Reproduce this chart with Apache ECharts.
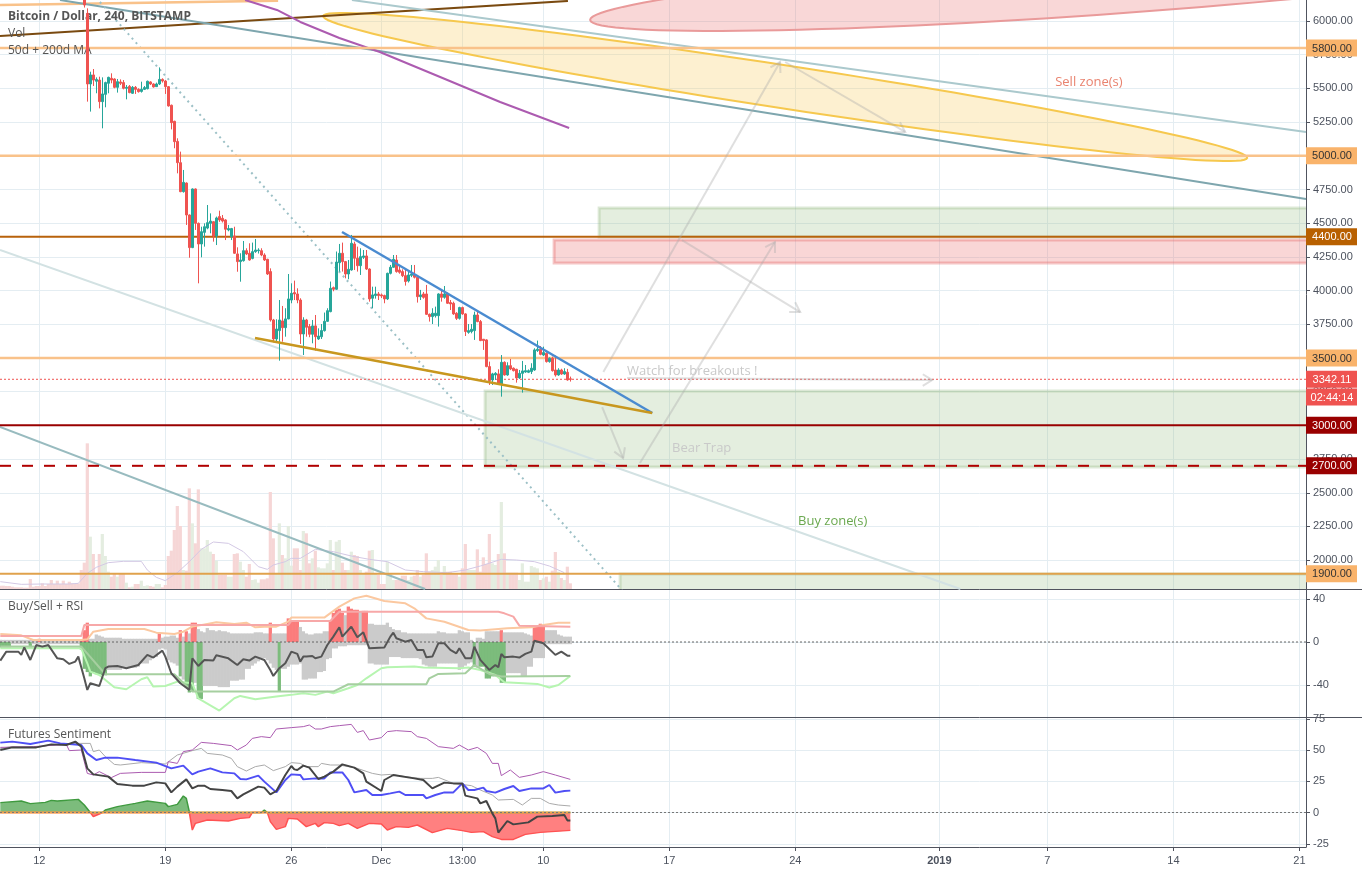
<!DOCTYPE html>
<html lang="en">
<head>
<meta charset="UTF-8">
<title>Bitcoin / Dollar, 240, BITSTAMP</title>
<style>
  html, body { margin: 0; padding: 0; background: #fff; overflow: hidden; }
  #chart { width: 1362px; height: 872px; }
</style>
</head>
<body>
<div id="chart"></div>
<script src="https://cdn.jsdelivr.net/npm/echarts@6/dist/echarts.min.js"></script>
<script>
// x axis is counted in 4h bars, bar 0 = 12 Nov 2018
const firstBar = -13;      // first bar of the indicator arrays
const firstCandle = 15;    // first candle on screen
const lastVisibleBar = 422.2;
const firstVisibleBar = -13.1;

const xTickBars = [0, 42, 84, 114, 141, 168, 210, 252, 300, 336, 378, 420];
const xTickLabels = ['12', '19', '26', 'Dec', '13:00', '10', '17', '24', '2019', '7', '14', '21'];
const priceTicks = [2000, 2250, 2500, 2750, 3000, 3250, 3500, 3750, 4000, 4250, 4500, 4750, 5000, 5250, 5500, 5750, 6000];
const rsiTicks = [-40, 0, 40];
const sentTicks = [-25, 0, 25, 50, 75];

const opens = [6300,
  6057,5533,5600,5553,5562,5402,5456,5538,5575,5570,
  5508,5548,5543,5501,5515,5464,5508,5493,5478,5493,
  5498,5548,5533,5513,5533,5567,5555,5513,5375,5256,
  5107,4949,4734,4798,4561,4319,4754,4499,4346,4432,
  4464,4499,4511,4405,4549,4536,4524,4450,4400,4405,
  4272,4215,4222,4296,4277,4239,4289,4296,4296,4264,
  4232,4141,3782,3641,3703,3775,3725,3790,3930,3985,
  3975,3930,3678,3782,3733,3676,3738,3641,3658,3703,
  3772,3844,4022,4010,4207,4277,4215,4123,4153,4346,
  4240,4185,4247,4257,4160,3943,3963,3975,3968,3963,
  3938,4128,4173,4227,4153,4141,4111,4071,4113,4116,
  4099,3955,3975,3975,3824,3807,3814,3814,3975,3950,
  3975,3911,3906,3832,3794,3874,3827,3690,3696,3703,
  3819,3770,3639,3634,3436,3337,3374,3382,3307,3468,
  3374,3443,3424,3416,3352,3386,3396,3394,3399,3411,
  3555,3565,3522,3535,3473,3498,3411,3374,3411,3381,
  3394,3345];
const closes = [6119,
  5533,5600,5562,5567,5402,5459,5543,5582,5562,5508,
  5550,5538,5501,5508,5469,5508,5493,5476,5493,5506,
  5553,5533,5511,5533,5567,5555,5513,5370,5246,5105,
  4949,4734,4803,4561,4319,4754,4499,4346,4437,4474,
  4504,4516,4405,4539,4524,4516,4455,4460,4460,4277,
  4215,4227,4296,4272,4227,4289,4301,4301,4264,4227,
  4123,3782,3641,3715,3782,3725,3790,3938,3980,3975,
  3930,3678,3782,3728,3676,3738,3658,3663,3703,3772,
  3851,4017,4010,4212,4277,4215,4123,4158,4351,4240,
  4185,4252,4257,4160,3938,3968,3975,3963,3960,3938,
  4128,4173,4232,4141,4136,4111,4067,4116,4123,4099,
  3955,3968,3950,3824,3807,3832,3832,3975,3950,3975,
  3906,3901,3827,3794,3874,3827,3696,3703,3713,3819,
  3770,3629,3629,3436,3332,3382,3386,3307,3468,3374,
  3443,3419,3406,3352,3386,3404,3406,3406,3424,3560,
  3565,3527,3540,3473,3498,3406,3374,3411,3381,3399,
  3337,3342];
const lows = [6100,
  5402,5328,5518,5464,5352,5204,5360,5464,5538,5501,
  5469,5525,5493,5419,5464,5459,5459,5469,5469,5488,
  5493,5525,5506,5511,5525,5543,5459,5365,5196,5056,
  4870,4730,4727,4487,4244,4315,4450,4054,4247,4326,
  4455,4425,4363,4338,4510,4505,4375,4440,4375,4272,
  4140,4066,4215,4264,4222,4232,4280,4275,4255,4220,
  4116,3770,3616,3621,3480,3621,3658,3787,3906,3930,
  3906,3604,3522,3658,3654,3609,3555,3634,3641,3696,
  3767,3839,3995,4005,4141,4141,4091,4084,4148,4153,
  4141,4116,4235,4153,3918,3869,3940,3930,3945,3906,
  3930,4120,4170,4133,4125,4100,4037,4060,4100,4090,
  3911,3930,3940,3819,3770,3752,3800,3733,3918,3940,
  3901,3856,3820,3782,3785,3820,3663,3680,3683,3634,
  3765,3625,3560,3431,3300,3300,3337,3300,3213,3369,
  3368,3410,3400,3317,3345,3243,3390,3388,3381,3405,
  3545,3520,3515,3466,3465,3399,3362,3368,3375,3375,
  3332,3325];
const highs = [6340,
  6094,5624,5644,5582,5587,5582,5550,5587,5612,5575,
  5570,5567,5562,5525,5525,5518,5518,5501,5550,5518,
  5558,5553,5538,5543,5656,5575,5562,5518,5380,5260,
  5130,5031,4895,4803,4565,4758,4758,4505,4474,4499,
  4635,4573,4516,4549,4593,4561,4530,4487,4465,4474,
  4321,4277,4368,4314,4351,4356,4383,4314,4314,4277,
  4236,4165,3790,3787,3930,3886,3869,4123,4054,4074,
  4017,3943,3802,3790,3752,3782,3819,3720,3752,3837,
  3869,4067,4030,4290,4346,4356,4220,4227,4413,4363,
  4326,4314,4301,4301,4165,4029,4029,3990,3978,3970,
  4133,4190,4264,4264,4190,4158,4165,4141,4190,4190,
  4104,4005,3990,4042,3830,3869,3881,3980,4005,4034,
  3985,3930,3918,3840,3880,3881,3832,3752,3752,3844,
  3851,3782,3641,3639,3473,3390,3395,3416,3522,3475,
  3468,3493,3430,3420,3411,3478,3448,3415,3461,3572,
  3629,3589,3584,3542,3505,3510,3517,3424,3420,3424,
  3419,3362];

// volume in chart units, bars -13..177
const volumes = [10,10,9,9,7,5,5,5,4,4,30,7,9,9,17,9,15,27,15,25,15,25,15,22,17,15,17,
  57,79,437,157,105,47,105,165,99,52,
  37,45,37,45,45,19,5,7,15,15,
  25,9,11,9,7,15,15,5,12,99,
  115,177,249,189,57,55,302,197,137,299,
  122,122,147,112,105,85,42,42,42,37,
  37,105,107,82,57,37,75,27,29,19,
  29,29,32,291,152,47,197,102,92,189,
  70,122,122,57,174,167,77,92,115,65,
  62,62,77,147,57,142,147,79,57,57,
  112,102,99,57,47,52,115,117,47,42,
  15,15,82,47,27,27,27,40,40,27,
  37,40,57,37,42,107,52,57,67,87,
  42,69,52,52,47,47,37,62,135,57,
  57,57,119,52,95,75,165,77,72,105,
  261,107,49,49,49,49,27,77,22,22,
  69,65,62,27,32,37,22,55,111,52,
  33,27,67,17];
const volMa = [[-13,22],[-6,14],[1,15],[10,15],[13,17],[16,47],[19,65],[23,79],[28,83],[34,83],[36,57],[39,35],[42,25],[46,49],[50,82],[54,119],[58,141],[63,137],[68,112],[73,67],[76,59],[78,72],[82,82],[84,92],[87,92],[92,119],[98,112],[104,99],[110,89],[116,82],[122,57],[128,52],[136,49],[142,57],[147,69],[154,89],[159,87],[165,82],[170,69],[175,49]];

// Buy/Sell + RSI pane
const histUp = [2,2,2,2,2,2,2,2,2,2,2,2,2,3,2,2,2,2,2,2,2,2,2,2,2,2,2,
  2,11,18,3,3,7,6,5,4,4,
  4,4,4,4,3,3,3,3,3,3,
  3,3,3,3,3,3,9,4,5,5,
  6,6,4,11,5,10,8,18,18,12,
  10,9,13,11,11,10,11,10,10,9,
  8,8,8,8,8,8,8,8,9,9,
  9,8,8,18,8,8,8,8,8,22,
  20,20,20,14,10,8,7,7,8,8,
  8,10,10,20,27,30,31,27,25,33,
  31,30,30,28,29,29,17,17,16,16,
  16,16,18,14,12,11,11,9,9,8,
  8,8,8,8,8,8,8,8,8,10,
  9,9,8,8,8,8,11,10,9,9,
  2,0,4,4,3,10,10,10,10,10,
  11,9,9,9,9,9,9,9,8,7,
  6,14,15,17,15,11,11,11,11,7,
  6,5,5,5];
const histDown = [-5,-5,-5,-5,-2,-2,-2,-2,-2,-2,-5,-2,-2,-2,-2,-2,-2,-2,-2,-2,-2,-2,-2,-2,-2,-2,-2,
  -7,-25,-28,-32,-28,-30,-30,-31,-31,-26,
  -26,-26,-26,-26,-24,-24,-24,-24,-24,-23,
  -20,-20,-20,-17,-15,-14,-7,-6,-7,-17,
  -19,-20,-22,-32,-35,-41,-47,-46,-38,-53,
  -53,-41,-41,-41,-41,-41,-42,-42,-42,-42,
  -36,-36,-36,-35,-35,-25,-25,-22,-20,-18,
  -15,-15,-17,-20,-24,-26,-46,-25,-25,-23,
  -21,-21,-21,-20,-35,-35,-34,-34,-34,-28,
  -28,-27,-16,-15,-6,-6,-4,-4,-4,-3,
  -3,-3,-3,-3,-3,-3,-20,-20,-21,-21,
  -21,-21,-21,-14,-14,-14,-14,-15,-15,-15,
  -15,-15,-15,-16,-21,-22,-23,-23,-23,-20,
  -20,-20,-20,-20,-20,-20,-26,-24,-22,-20,
  -19,-23,-24,-23,-23,-34,-34,-32,-32,-32,
  -38,-38,-29,-29,-29,-29,-29,-32,-32,-23,
  -23,-15,-15,-15,-15,-2,-2,-2,-2,-2,
  -2,-2,-2,-2];
const sellBars = [0,14,15,16,40,47,49,51,52,77,83,84,85,86,97,98,99,100,101,103,104,105,106,108,109,154,165,166,167,168];
const buyBars = [-13,-12,-11,-10,-3,14,15,16,17,18,19,20,21,22,47,49,50,51,53,54,80,145,147,148,149,150,151,152,153,154,155];
const rsiLine = [[-13,-17.3],[-11,-9],[-7,-9],[-6,-12],[-5,-5],[-3,-16.7],[-1,-2.8],[1,-4.3],[3,-2.8],[6,-15.2],[8,-16],[10,-20.4],[12,-18.2],[13,-13.6],[15,-33.8],[16,-44.6],[17,-38.4],[20,-40.9],[22,-24.4],[23,-22.9],[26,-22.3],[29,-24.4],[33,-21.4],[36,-12],[38,-14.5],[41,-8],[42,-13.6],[44,-29.1],[47,-38.4],[50,-44.6],[51,-15.2],[53,-22.3],[55,-16.7],[58,-17.3],[59,-12.4],[63,-15.2],[66,-21.4],[68,-16],[70,-17.3],[72,-13.6],[75,-16.7],[77,-26],[78,-31.6],[80,-24.4],[82,-19.8],[84,-9],[86,-11.1],[87,-18.2],[88,-13.6],[89,-13.6],[91,-13],[92,-15.2],[94,-13.6],[96,-2.8],[98,5],[100,13.7],[101,5],[104,14.3],[106,4.4],[108,9],[110,-5.9],[115,-5.2],[117,5],[118,8.7],[119,3.5],[122,0.3],[124,1.9],[126,-7.4],[128,-7.4],[129,-14.2],[131,-13.6],[133,-1.2],[135,-1.2],[137,-7.4],[139,-10.5],[140,-5.9],[142,-15.2],[144,-15.2],[145,-4.3],[147,-16.7],[150,-26],[152,-21.4],[153,-23.5],[154,-11.1],[155,-14.2],[158,-13.6],[160,-14.5],[162,-11.1],[164,-9],[165,1.2],[168,-1.2],[172,-12],[174,-9],[176,-12.7],[177,-12.7]];
const rsiUpper = [[-13,7.5],[-6,6.2],[-2,1.9],[14,1.9],[16,2.5],[18,9.6],[23,12.1],[35,12.1],[39,8.7],[45,7.5],[48,9.6],[51,14.3],[56,16.8],[59,18.3],[65,16.8],[69,18],[72,13.7],[75,14.3],[79,14.3],[83,18.9],[84,22.7],[95,22.7],[100,32.9],[105,40.6],[109,43.1],[115,38.2],[122,36],[125,31.4],[129,22],[135,18.9],[143,11.2],[147,10.6],[156,12.8],[164,13.7],[168,15.9],[173,18],[177,18]];
const rsiLower = [[-13,-5.9],[14,-5.9],[16,-19.8],[17,-27.6],[20,-30.7],[25,-42.1],[29,-44],[34,-34.7],[36,-32.8],[38,-41.5],[42,-40.9],[46,-36.9],[51,-38.4],[53,-52.4],[60,-63.8],[65,-52.4],[67,-50.2],[72,-53.3],[79,-50.8],[84,-49.2],[88,-47.7],[92,-49.2],[96,-46.2],[98,-47.7],[103,-43.1],[106,-40],[109,-33.8],[114,-24.4],[116,-23.5],[125,-22.9],[128,-23.8],[140,-24.4],[143,-23.8],[147,-26],[152,-30.7],[155,-37.5],[166,-39],[170,-42.4],[173,-40],[177,-31.6]];
const sellBand = [[-13,5.6],[14,5.6],[15,15.8],[83,15.8],[84,19.6],[97,19.6],[100,28.2],[153,28.2],[155,26.7],[158,23.6],[160,15.2],[177,14.3]];
const buyBand = [[-13,-4.3],[14,-4.3],[22,-30],[45,-30],[51,-46.1],[98,-46.1],[103,-39.3],[129,-39.3],[130,-33.8],[133,-29.7],[142,-29.1],[145,-21.4],[150,-29.7],[154,-32.2],[177,-31.6]];

// Futures Sentiment pane
const blueLine = [[-13,55.9],[-9,56.7],[-3,54.8],[3,57.5],[7,55.3],[14,54],[16,47.3],[19,42],[22,43.9],[26,43.9],[32,42],[39,39.9],[44,35.3],[48,37.5],[51,30.5],[53,32.7],[57,35.3],[61,32.1],[65,31.3],[67,26.8],[69,26.5],[73,29.5],[75,24.7],[79,16.1],[82,26],[84,30.5],[87,30],[88,26.5],[92,27.3],[95,27.3],[97,32.1],[101,32.1],[103,26],[105,16.1],[109,18],[111,14],[114,14],[117,15.3],[120,16.7],[122,14],[128,14],[129,11.3],[132,14],[135,16.1],[138,16.1],[141,23.3],[143,18],[145,18],[148,19.9],[149,17.2],[152,15.9],[155,18.8],[158,21.2],[160,17.2],[164,19.3],[168,19.3],[170,22],[172,15.9],[175,17.2],[177,17.5]];
const blackLine = [[-13,50],[-9,52.1],[-1,52.1],[4,54.5],[9,54],[12,56.7],[14,52.7],[16,35.3],[18,30.5],[23,28.7],[26,22.8],[31,21.5],[35,21.5],[39,24.1],[42,23.3],[44,16.1],[46,20.7],[49,26.5],[51,19.3],[53,21.5],[55,21.5],[57,18.8],[61,18],[64,17.2],[66,11.3],[68,14.5],[73,20.7],[75,19.9],[77,14.5],[79,17.2],[82,30],[84,37.2],[85,34.5],[86,34],[88,37.5],[90,35.9],[93,26.8],[95,28.7],[98,32.7],[101,38.5],[105,35.9],[108,31.3],[109,24.7],[114,17.2],[115,26],[118,30],[125,27.3],[128,26],[131,19.3],[135,23.9],[138,23.3],[141,23.3],[142,13.5],[146,11.3],[147,7.3],[149,9.2],[151,-0.7],[152,-4.7],[153,-16.1],[156,-6.8],[158,-9.5],[163,-7.9],[166,-3.3],[171,-2.8],[175,-2],[176,-6.3],[177,-6.3]];
const purpleLine = [[-13,52.1],[-2,52.7],[9,54.5],[10,49.5],[14,50],[16,31.3],[18,30],[20,32.7],[24,27.9],[27,31.3],[34,32.1],[42,32.1],[43,40.7],[46,39.3],[48,48.7],[51,50],[54,56.1],[58,55.3],[64,53.5],[66,50],[69,54],[71,59.3],[74,60.7],[77,59.9],[79,66.8],[84,67.9],[88,68.7],[90,70],[92,66.8],[94,66.8],[97,68.7],[100,69.5],[104,70.5],[106,64.1],[108,65.5],[110,58],[114,59.9],[116,64.7],[119,65.5],[124,64.7],[126,60.7],[129,59.3],[133,52.7],[138,51.3],[140,54],[143,50],[146,52.1],[149,47.3],[151,39.3],[153,39.3],[154,29.5],[157,34],[160,28.1],[164,30],[168,32.7],[172,30],[177,26.5]];
const grayLine = [[-13,51.3],[-9,52.7],[-1,52.1],[4,54],[12,55.3],[17,55.3],[18,48.7],[20,50],[22,44.7],[25,38.5],[27,38],[34,39.9],[42,38.8],[46,46],[51,49.5],[54,51.3],[56,47.3],[61,46],[64,43.3],[66,36.7],[69,33.2],[72,36.7],[75,38],[78,33.5],[82,36.7],[84,39.9],[87,39.3],[89,36.7],[93,36.7],[94,39.3],[97,38],[100,38],[106,35.3],[111,31.3],[114,30],[117,30.5],[122,28.7],[127,27.3],[131,27.3],[133,28.1],[138,23.3],[144,21.5],[147,18],[151,14],[153,10],[158,10.5],[161,6],[164,11.3],[167,11.3],[170,7.3],[173,6],[177,5.2]];
const sentiment = [[-13,7.9],[-6,9.2],[-3,7.1],[2,8.1],[4,9.7],[6,9.2],[13,10.5],[15,6],[17,0],[18,-3.3],[20,-1.2],[21,0],[22,2],[26,4.7],[32,7.3],[36,9.2],[42,7.3],[43,4.7],[46,6.5],[48,13.2],[49,11.3],[50,0.7],[50.5,0],[51,-14],[52,-8.7],[56,-6],[63,-6.8],[67,-4.7],[70,-4.1],[71,0],[73,0],[74,0],[75,2],[76,0],[77,-7.3],[79,-13.5],[82,-11.3],[83,-4.7],[86,-5.2],[89,-11.3],[92,-8.7],[93,-11.3],[95,-8.1],[98,-8.7],[100,-10.5],[103,-8.7],[106,-12.7],[110,-8.7],[114,-9.2],[116,-14],[119,-11.3],[123,-11.9],[126,-10],[131,-16.1],[136,-12.7],[141,-14.5],[144,-15.9],[148,-15.3],[151,-19.3],[154,-21.5],[158,-21.5],[162,-17.5],[167,-15.9],[177,-14.3]];

// drawings on the price pane: [bar, price] pairs
const topOrangeLine = [[-13.1,6119],[79.6,6151]];
const brownLine = [[-13.1,5889],[176.2,6149]];
const channelDark = [[6.9,6156],[422.2,4679]];
const channelLight = [[104.2,6156],[422.2,5177]];
const purpleMa = [[68.6,6156],[79.2,6082],[87,5993],[100,5874],[113.5,5770],[133.6,5585],[153.6,5399],[176.6,5206]];
const dottedTrend = [[20.2,6141],[194.2,1778]];
const paleSupport = [[-13.1,4301],[307,1786]];
const lowerChannel = [[-13.1,2988],[128.6,1786]];
const wedgeTop = [[100.9,4435],[204.3,3092]];
const wedgeBottom = [[71.9,3648],[204.3,3092]];

const levelPrices = [5800, 5000, 4400, 3500, 3000, 2700, 1900];
const levelColors = ['#f9c28a', '#f9c28a', '#b8620b', '#f9c28a', '#990000', '#b00000', '#e0a24c'];
const buyZones = [[186.6,4613,450,4397],[148.6,3255,450,2691],[193.6,1897,450,1700]];
const sellZones = [[171.6,4375,450,4205]];
const arrows = [[188,3396,246.9,5696],[248.6,5696,288.6,5177],[200.2,2721,245.2,4360],[214.2,4375,253.6,3841],[187.6,3136,194.6,2757],[195.9,3351,297.6,3336]];
const noteTexts = ['Sell zone(s)', 'Watch for breakouts !', 'Bear Trap', 'Buy zone(s)'];
const notePlaces = [[338.6,5548],[195.9,3400],[210.9,2832],[252.9,2290]];
const noteColors = ['#e9836f', '#c9c9c9', '#c9c9c9', '#6aa84f'];

// right axis tags
const tagPrices = [5800, 5000, 4400, 3500, 3342.11, 3210, 3000, 2700, 1900];
const tagTexts = ['5800.00', '5000.00', '4400.00', '3500.00', '3342.11', '02:44:14', '3000.00', '2700.00', '1900.00'];
const tagColors = ['#f9b36b', '#f9b36b', '#b86000', '#f9b36b', '#ef5350', '#ef5350', '#990000', '#990000', '#f9b36b'];
const tagTextColors = ['#333', '#333', '#fff', '#333', '#fff', '#fff', '#fff', '#fff', '#333'];

const xMin = firstVisibleBar;
const xMax = lastVisibleBar;
const gridColor = '#e4edf2';
const axisColor = '#50535e';
const labelColor = '#4c525e';
const axisFont = '"Liberation Sans", Arial, sans-serif';
const titleFont = '"Open Sans", sans-serif';

const candleData = opens.map((o, i) => [firstCandle + i, o, closes[i], lows[i], highs[i]]);

function line(pts, color, width, axis, extra) {
  return Object.assign({
    type: 'line', xAxisIndex: axis, yAxisIndex: axis === 0 ? 0 : axis + 1,
    data: pts,
    symbol: 'none', silent: true, z: 5,
    lineStyle: { color: color, width: width }
  }, extra || {});
}
function hline(value, color, width, axis, type) {
  return line([[firstVisibleBar, value], [lastVisibleBar, value]], color, width, axis, {
    lineStyle: { color: color, width: width, type: type || 'solid' }
  });
}

function drawArrow(params, api) {
  const a = arrows[params.dataIndex];
  const p1 = api.coord([a[0], a[1]]);
  const p2 = api.coord([a[2], a[3]]);
  const ang = Math.atan2(p1[1] - p2[1], p1[0] - p2[0]);
  const head = 11;
  const w1 = [p2[0] + head * Math.cos(ang + 0.55), p2[1] + head * Math.sin(ang + 0.55)];
  const w2 = [p2[0] + head * Math.cos(ang - 0.55), p2[1] + head * Math.sin(ang - 0.55)];
  const style = { stroke: 'rgba(170,170,170,0.38)', lineWidth: 2, fill: null };
  return { type: 'group', children: [
    { type: 'polyline', shape: { points: [p1, p2] }, style: style },
    { type: 'polyline', shape: { points: [w1, p2, w2] }, style: style }
  ] };
}
function zoneRenderer(list, fill, stroke) {
  return function (params, api) {
    const r = list[params.dataIndex];
    const a = api.coord([r[0], r[1]]);
    const b = api.coord([r[2], r[3]]);
    return { type: 'rect', shape: { x: a[0], y: a[1], width: b[0] - a[0], height: b[1] - a[1] },
      style: { fill: fill, stroke: stroke, lineWidth: 3 } };
  };
}
function ellipseSeries(tipA, tipB, minorPx, fill, stroke) {
  return {
    type: 'custom', xAxisIndex: 0, yAxisIndex: 0, clip: true, silent: true, z: 2,
    data: [tipA],
    encode: { x: 0, y: 1 },
    renderItem: function (params, api) {
      const a = api.coord(tipA);
      const b = api.coord(tipB);
      const cx = (a[0] + b[0]) / 2, cy = (a[1] + b[1]) / 2;
      const major = Math.hypot(b[0] - a[0], b[1] - a[1]) / 2;
      const ang = Math.atan2(b[1] - a[1], b[0] - a[0]);
      const pts = [];
      for (let i = 0; i < 120; i++) {
        const t = i / 120 * Math.PI * 2;
        const u = major * Math.cos(t), v = minorPx * Math.sin(t);
        pts.push([cx + u * Math.cos(ang) - v * Math.sin(ang), cy + u * Math.sin(ang) + v * Math.cos(ang)]);
      }
      return { type: 'polygon', shape: { points: pts }, style: { fill: fill, stroke: stroke, lineWidth: 2 } };
    }
  };
}

const titles = [
  ['Bitcoin / Dollar, 240, BITSTAMP', 11, 'bold'],
  ['Vol', 28, 'normal'],
  ['50d + 200d MA', 45, 'normal'],
  ['Buy/Sell + RSI', 601, 'normal'],
  ['Futures Sentiment', 729, 'normal']
].map(t => ({
  text: t[0], left: 8, top: t[1], padding: 0,
  textStyle: { fontFamily: titleFont, fontSize: 12, fontWeight: t[2], color: '#555' }
}));

function xAxisOf(gridIndex, showLabels) {
  return {
    type: 'value', gridIndex: gridIndex, min: xMin, max: xMax, position: 'bottom', scale: true,
    axisLine: { show: true, onZero: false, lineStyle: { color: axisColor, width: 1 } },
    axisTick: { show: showLabels, customValues: xTickBars, length: 4, lineStyle: { color: axisColor } },
    axisLabel: showLabels ? {
      customValues: xTickBars, color: labelColor, fontFamily: axisFont, fontSize: 11, margin: 8,
      hideOverlap: false,
      formatter: function (v) {
        const text = xTickLabels[xTickBars.indexOf(v)];
        return text === '2019' ? '{y|2019}' : text;
      },
      rich: { y: { fontWeight: 'bold', color: labelColor, fontFamily: axisFont, fontSize: 11 } }
    } : { show: false },
    splitLine: { show: true, lineStyle: { color: gridColor, width: 1 } }
  };
}
function yAxisOf(gridIndex, min, max, ticks, digits) {
  return {
    type: 'value', gridIndex: gridIndex, position: 'right', min: min, max: max,
    axisLine: { show: true, onZero: false, lineStyle: { color: axisColor, width: 1 } },
    axisTick: { show: true, customValues: ticks, length: 4, lineStyle: { color: axisColor } },
    axisLabel: {
      customValues: ticks, color: labelColor, fontFamily: axisFont, fontSize: 11, margin: 7,
      padding: [2, 0, 0, 0],
      hideOverlap: false, showMinLabel: true, showMaxLabel: true,
      formatter: v => v.toFixed(digits)
    },
    splitLine: { show: true, lineStyle: { color: gridColor, width: 1 } }
  };
}

const series = [];

// zones and ellipses under everything
series.push({
  type: 'custom', xAxisIndex: 0, yAxisIndex: 0, clip: true, silent: true, z: 1,
  data: buyZones.map(r => [r[0], r[1]]), encode: { x: 0, y: 1 },
  renderItem: zoneRenderer(buyZones, 'rgba(150,190,130,0.26)', 'rgba(140,180,120,0.3)')
});
series.push({
  type: 'custom', xAxisIndex: 0, yAxisIndex: 0, clip: true, silent: true, z: 1,
  data: sellZones.map(r => [r[0], r[1]]), encode: { x: 0, y: 1 },
  renderItem: zoneRenderer(sellZones, 'rgba(235,120,120,0.3)', 'rgba(230,110,110,0.4)')
});
series.push(ellipseSeries([94.6, 6037], [402.6, 4984], 21.5, 'rgba(250,205,100,0.3)', '#f6c84e'));
series.push(ellipseSeries([183.6, 6008], [520, 6527], 30, 'rgba(235,110,110,0.28)', '#e99a9a'));

// volume
series.push({
  type: 'bar', xAxisIndex: 0, yAxisIndex: 1, barWidth: 3.2, silent: true, z: 2,
  data: volumes.map((v, i) => {
    const k = firstBar + i, c = k - firstCandle;
    const down = c < 0 || closes[c] < opens[c];
    return { value: [k, v], itemStyle: { color: down ? '#f6d6d6' : '#e4ede0' } };
  })
});
series.push(line(volMa, '#d3c8e4', 1, 0, { yAxisIndex: 1, z: 3 }));

// price drawings
series.push(line(topOrangeLine, '#f9c28a', 2.5, 0));
series.push(line(brownLine, '#7a4a10', 2, 0));
series.push(line(channelDark, '#7ea6ae', 2, 0));
series.push(line(channelLight, '#abc9cd', 2, 0));
series.push(line(purpleMa, '#ac5bb0', 2, 0));
series.push(line(dottedTrend, '#9cc0c6', 2, 0, { lineStyle: { color: '#9cc0c6', width: 2, type: [2, 4] } }));
series.push(line(paleSupport, '#d3e2e3', 2, 0));
series.push(line(lowerChannel, '#98bbbf', 2, 0));
levelPrices.forEach((p, i) => {
  series.push(hline(p, levelColors[i], i === 3 || i < 2 ? 2.5 : 2, 0, p === 2700 ? [11, 11] : 'solid'));
});
series.push(hline(closes[closes.length - 1], '#ef5350', 1, 0, [2, 2]));

series.push({
  type: 'candlestick', xAxisIndex: 0, yAxisIndex: 0, barWidth: 2.5, silent: true, z: 6,
  encode: { x: 0, y: [1, 2, 3, 4] },
  data: candleData,
  itemStyle: { color: '#26a69a', color0: '#ef5350', borderColor: '#26a69a', borderColor0: '#ef5350', borderWidth: 1 }
});
series.push(line(wedgeTop, '#4a8bd0', 2.5, 0, { z: 7 }));
series.push(line(wedgeBottom, '#c8971e', 2.5, 0, { z: 7 }));

series.push({
  type: 'custom', xAxisIndex: 0, yAxisIndex: 0, clip: true, silent: true, z: 7,
  data: arrows.map(a => [a[0], a[1]]), encode: { x: 0, y: 1 },
  renderItem: drawArrow
});
series.push({
  type: 'custom', xAxisIndex: 0, yAxisIndex: 0, clip: true, silent: true, z: 8,
  data: notePlaces, encode: { x: 0, y: 1 },
  renderItem: function (params, api) {
    const c = api.coord(notePlaces[params.dataIndex]);
    return { type: 'text', style: {
      x: c[0], y: c[1], text: noteTexts[params.dataIndex], fill: noteColors[params.dataIndex],
      font: '13px ' + titleFont, align: 'left', verticalAlign: 'middle'
    } };
  }
});

// tags over the price axis
series.push({
  type: 'custom', xAxisIndex: 0, yAxisIndex: 0, clip: false, silent: true, z: 20,
  data: tagPrices.map(p => [xMax, p]), encode: { x: 0, y: 1 },
  renderItem: function (params, api) {
    const i = params.dataIndex;
    const c = api.coord([xMax, tagPrices[i]]);
    return { type: 'group', children: [
      { type: 'rect', shape: { x: c[0], y: c[1] - 8.5, width: 51, height: 17 }, style: { fill: tagColors[i] } },
      { type: 'text', style: { x: c[0] + 26, y: c[1] + 0.5, text: tagTexts[i], fill: tagTextColors[i],
        font: '11px ' + axisFont, align: 'center', verticalAlign: 'middle' } }
    ] };
  }
});

// Buy/Sell + RSI
series.push({
  type: 'bar', xAxisIndex: 1, yAxisIndex: 2, barWidth: 3.3, barGap: '-100%', silent: true, z: 2,
  data: histUp.map((v, i) => {
    const k = firstBar + i;
    return { value: [k, v], itemStyle: { color: sellBars.includes(k) ? '#fb7c7c' : '#cbcbcb' } };
  })
});
series.push({
  type: 'bar', xAxisIndex: 1, yAxisIndex: 2, barWidth: 3.3, barGap: '-100%', silent: true, z: 2,
  data: histDown.map((v, i) => {
    const k = firstBar + i;
    return { value: [k, v], itemStyle: { color: buyBars.includes(k) ? '#7cbc7c' : '#cbcbcb' } };
  })
});
series.push(hline(0, '#666', 1, 1, [2, 2]));
series.push(line(rsiUpper, '#fbc8a0', 2, 1));
series.push(line(sellBand, '#f7a8a8', 2, 1));
series.push(line(rsiLower, '#b6f5b0', 2, 1));
series.push(line(buyBand, '#a6cfa0', 2, 1));
series.push(line(rsiLine, '#555', 2, 1, { z: 6 }));

// Futures Sentiment
const sentPos = sentiment.map(p => [p[0], Math.max(p[1], 0)]);
const sentNeg = sentiment.map(p => [p[0], Math.min(p[1], 0)]);
series.push(line(sentPos, '#3f9a3f', 1.5, 2, { areaStyle: { color: '#7cbc7c', opacity: 1 }, z: 2 }));
series.push(line(sentNeg, '#ff5252', 1.5, 2, { areaStyle: { color: '#ff8080', opacity: 1 }, z: 2 }));
series.push(hline(0, '#777', 1, 2, [2, 2]));
series.push(line([[firstVisibleBar, 0], [177, 0]], '#f2a548', 2, 2, { z: 3 }));
series.push(line(grayLine, '#aaa', 1, 2));
series.push(line(purpleLine, '#ab5bb0', 1, 2));
series.push(line(blueLine, '#4f4ff5', 2, 2));
series.push(line(blackLine, '#444', 2, 2, { z: 6 }));

const chart = echarts.init(document.getElementById('chart'));
chart.setOption({
  animation: false,
  backgroundColor: '#fff',
  title: titles,
  grid: [
    { left: 0, right: 56, top: 0, height: 589 },
    { left: 0, right: 56, top: 590, height: 127 },
    { left: 0, right: 56, top: 718, height: 129 }
  ],
  xAxis: [xAxisOf(0, false), xAxisOf(1, false), xAxisOf(2, true)],
  yAxis: [
    yAxisOf(0, 1786, 6156, priceTicks, 2),
    { type: 'value', gridIndex: 0, min: 0, max: 1767, show: false },
    yAxisOf(1, -69.8, 48.4, rsiTicks, 0),
    yAxisOf(2, -27.6, 75.6, sentTicks, 0)
  ],
  series: series,
  graphic: [589.5, 717.5].map(y => ({
    type: 'line', silent: true, z: 30,
    shape: { x1: 1306, y1: y, x2: 1362, y2: y },
    style: { stroke: axisColor, lineWidth: 1 }
  }))
});
</script>
</body>
</html>
